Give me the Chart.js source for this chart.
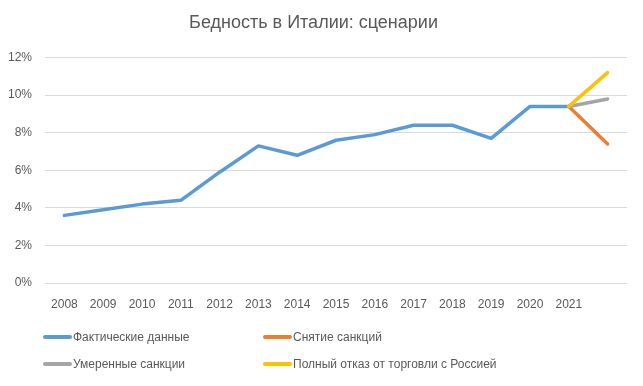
<!DOCTYPE html>
<html>
<head>
<meta charset="utf-8">
<script src="https://cdn.jsdelivr.net/npm/chart.js@4"></script>
<style>
  html, body { margin:0; padding:0; background:#fff; }
  #wrap { position:relative; width:643px; height:386px; }
  #legend { position:absolute; left:0; top:0; width:643px; height:386px; pointer-events:none;
            font-family:"Liberation Sans", Arial, sans-serif; font-size:12px; color:#595959; }
  .item { position:absolute; display:flex; align-items:center; white-space:nowrap; }
  .swatch { width:29px; height:4px; border-radius:2px; margin-right:1px; }
</style>
</head>
<body>
<div id="wrap">
  <canvas id="chart" width="643" height="386"></canvas>
  <div id="legend"></div>
</div>
<script>
/* Бедность в Италии: сценарии */
const years = ['2008','2009','2010','2011','2012','2013','2014','2015','2016','2017','2018','2019','2020','2021',''];
const actual   = [3.6, 3.9, 4.2, 4.4, 5.9, 7.3, 6.8, 7.6, 7.9, 8.4, 8.4, 7.7, 9.4, 9.4, null];
const liftSanctions = [null,null,null,null,null,null,null,null,null,null,null,null,null, 9.4, 7.4];
const moderate      = [null,null,null,null,null,null,null,null,null,null,null,null,null, 9.4, 9.8];
const fullStop      = [null,null,null,null,null,null,null,null,null,null,null,null,null, 9.4, 11.2];
const yTicks = [0, 2, 4, 6, 8, 10, 12];

const seriesNames = ['Фактические данные', 'Снятие санкций', 'Умеренные санкции', 'Полный отказ от торговли с Россией'];
const seriesColors = ['#5B9BD5', '#ED7D31', '#A5A5A5', '#FFC000'];
const seriesData = [actual, liftSanctions, moderate, fullStop];

const textColor = '#595959';
const font = '"Liberation Sans", Arial, sans-serif';

const datasets = seriesData.map((d, i) => ({
  label: seriesNames[i], data: d, borderColor: seriesColors[i], backgroundColor: seriesColors[i],
  borderWidth: 3.5, pointRadius: 0, tension: 0, borderCapStyle: 'round', borderJoinStyle: 'round',
  spanGaps: false, order: 4 - i
}));

new Chart(document.getElementById('chart'), {
  type: 'line',
  data: { labels: years, datasets },
  options: {
    responsive: false, animation: false,
    layout: { padding: { left: 0, right: 16, bottom: 73 } },
    plugins: {
      legend: { display: false },
      tooltip: { enabled: false },
      title: { display: true, text: 'Бедность в Италии: сценарии', color: textColor,
               font: { family: font, size: 18, weight: 'normal' }, padding: { top: 12, bottom: 24 } }
    },
    scales: {
      x: {
        offset: true,
        grid: { display: false }, border: { display: false },
        ticks: { color: textColor, font: { family: font, size: 12 }, padding: 6, maxRotation: 0, autoSkip: false },
        afterFit: s => { s.height = 30; }
      },
      y: {
        min: 0, max: 12,
        afterBuildTicks: s => { s.ticks = yTicks.map(v => ({ value: v })); },
        grid: { color: '#d9d9d9', lineWidth: 1, drawTicks: false }, border: { display: false },
        ticks: { color: textColor, font: { family: font, size: 12 }, padding: 13, callback: v => v + '%' },
        afterFit: s => { s.width = 45; }
      }
    }
  }
});

// legend in two columns like the original
const legend = document.getElementById('legend');
const pos = [[43, 337], [263, 337], [43, 364], [263, 364]];
seriesNames.forEach((name, i) => {
  const el = document.createElement('div');
  el.className = 'item';
  el.style.left = pos[i][0] + 'px';
  el.style.top = (pos[i][1] - 8) + 'px';
  el.style.height = '16px';
  el.innerHTML = '<span class="swatch" style="background:' + seriesColors[i] + '"></span>' + name;
  legend.appendChild(el);
});
</script>
</body>
</html>
